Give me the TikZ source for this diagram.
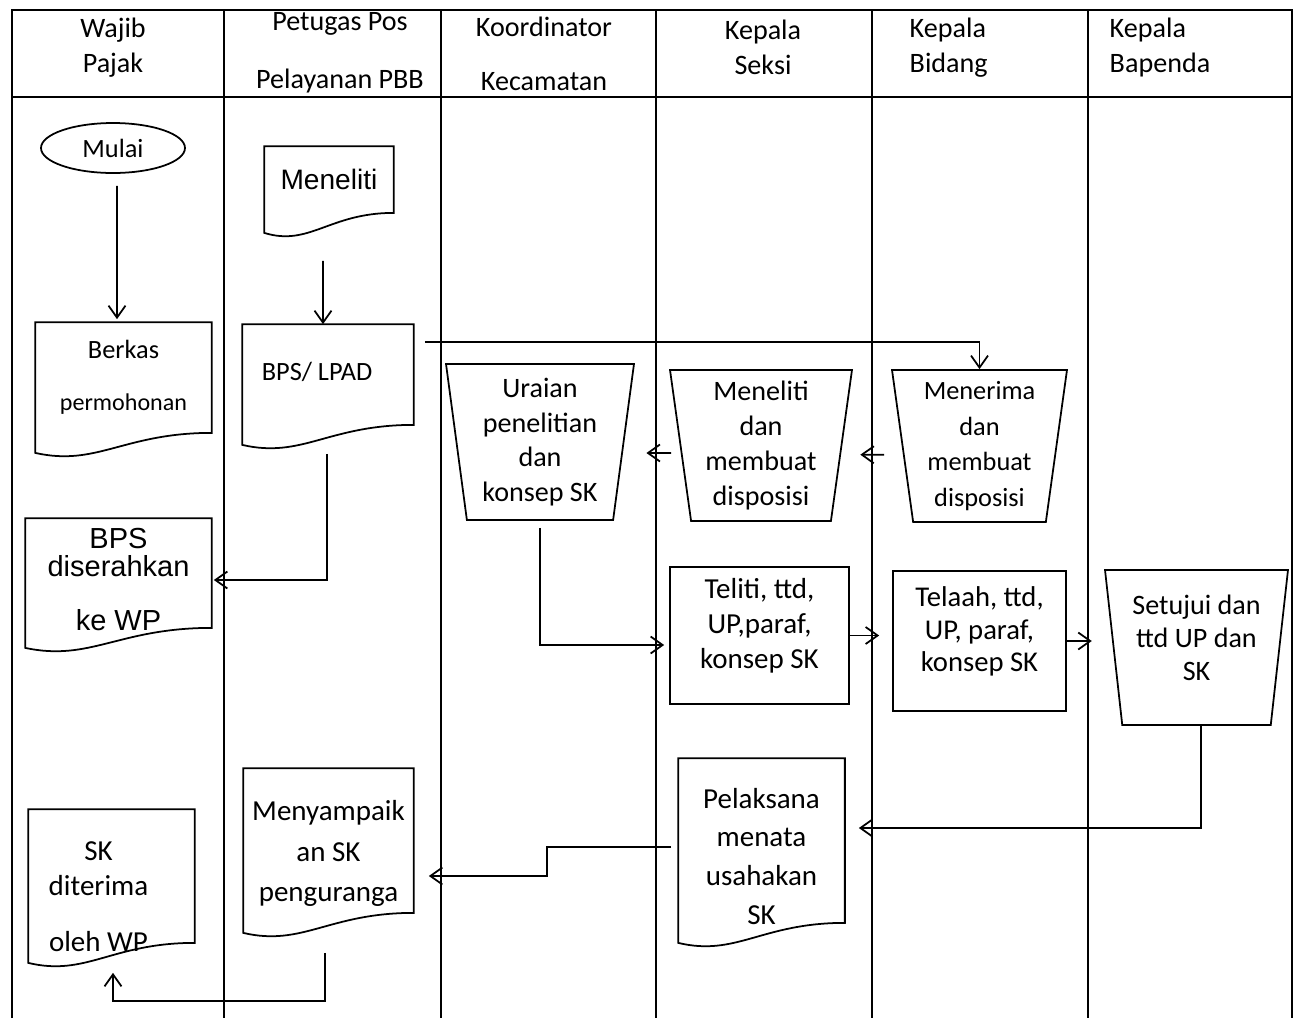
\documentclass[tikz,border=0pt]{standalone}
\usepackage{fontspec}
\setmainfont{Carlito}
\newfontfamily\arialfont{Liberation Sans}
\usetikzlibrary{shapes.geometric, arrows.meta, calc}

% outline of a document symbol round a (plain) node
\newcommand{\docframe}[1]{%
  \draw (#1.north west) -- (#1.north east) -- (#1.south east)
    .. controls ($(#1.south west)!0.5!(#1.south east)$)
    and ($(#1.south west)!0.35!(#1.south east)+(0pt,-0.68cm)$)
    .. ([yshift=-0.4cm]#1.south west) -- cycle;}

\begin{document}
\begin{tikzpicture}
[ x=0.02cm, y=-0.02cm, line width=1pt
, lane/.style={line width=0.9pt}
, lanehead/.style={align=center, font=\fontsize{16}{19.8}\selectfont}
, terminator/.style={ellipse, draw, minimum width=2.88cm, minimum height=1cm, font=\fontsize{15}{18}\selectfont}
, docbox/.style={rectangle, inner sep=1pt, align=center}
, process/.style={rectangle, draw, inner sep=1pt, align=center}
, manual/.style={trapezium, draw, shape border rotate=180, trapezium left angle=81, trapezium right angle=81, trapezium stretches body, inner sep=1pt, align=center}
, flow/.style={-{Straight Barb[length=2.4mm, width=3.4mm]}}
]
\useasboundingbox (0,0) rectangle (1295,1018);

% swimlanes
\draw[lane] (12,1018) -- (12,10) -- (1292,10) -- (1292,1018);
\draw[lane] (12,97) -- (1292,97);
\foreach \x in {224,441,656,872,1088}
  \draw[lane] (\x,10) -- (\x,1018);

% lane titles
\node (hwp) [lanehead] at (113,47.5) {Wajib\\Pajak};
\node (hpos) [lanehead, font=\fontsize{16}{33}\selectfont] at (340,53) {Petugas Pos\\Pelayanan PBB};
\node (hkoord) [lanehead, font=\fontsize{16}{31}\selectfont] at (544,54) {Koordinator\\Kecamatan};
\node (hkasi) [lanehead] at (763,47) {Kepala\\Seksi};
\node (hkabid) [lanehead, align=left, anchor=west] at (903,47.5) {Kepala\\Bidang};
\node (hkaban) [lanehead, align=left, anchor=west] at (1103,47.5) {Kepala\\Bapenda};

% Wajib Pajak
\node (mulai) [terminator] at (113,148) {Mulai};
\node (berkas) [docbox, minimum width=3.5cm, minimum height=2.18cm, font=\fontsize{15}{29.5}\selectfont]
  at (123.5,377.5) {Berkas\\{\fontsize{13.7}{16}\selectfont permohonan}};
\docframe{berkas}
\node (bpswp) [docbox, minimum width=3.7cm, minimum height=2.16cm,
  label={[docbox, font=\arialfont\fontsize{16.5}{16.4}\selectfont, yshift=-3.5pt]center:{BPS\\diserahkan\\[14pt]ke WP}}]
  at (118.5,573) {};
\docframe{bpswp}
\node (skwp) [docbox, minimum width=3.3cm, minimum height=2.64cm,
  label={[docbox, font=\fontsize{16.5}{20}\selectfont, shift={(-0.26cm,-0.42cm)}]center:{SK\\diterima\\[12pt]oleh WP}}]
  at (111.5,876) {};
\docframe{skwp}

% Petugas Pos Pelayanan PBB
\node (periksa) [docbox, minimum width=2.56cm, minimum height=1.3cm, font=\arialfont\fontsize{16}{19}\selectfont]
  at (329,179.5) {Meneliti};
\docframe{periksa}
\node (bps) [docbox, minimum width=3.4cm, minimum height=1.98cm,
  label={[docbox, font=\fontsize{15}{18}\selectfont, shift={(-0.22cm,0.06cm)}]center:BPS/ LPAD}]
  at (328,374.5) {};
\docframe{bps}
\node (sampaikan) [docbox, minimum width=3.38cm, minimum height=2.86cm,
  label={[docbox, font=\fontsize{16.5}{23}\selectfont, yshift=-7.4pt]center:{Menyampaik\\an SK\\penguranga}}]
  at (328.5,840.5) {};
\docframe{sampaikan}

% Koordinator, Kepala Seksi, Kepala Bidang, Kepala Bapenda
\node (uraian) [manual, minimum width=3.76cm, minimum height=3.12cm, font=\fontsize{16}{19.8}\selectfont]
  at (540,442) {Uraian\\penelitian\\dan\\konsep SK};
\node (dispokasi) [manual, minimum width=3.64cm, minimum height=3.02cm, font=\fontsize{16}{20}\selectfont]
  at (761,445.5) {Meneliti\\dan\\membuat\\disposisi};
\node (dispokabid) [manual, minimum width=3.5cm, minimum height=3.04cm, font=\fontsize{15}{20.4}\selectfont]
  at (979.5,446) {Menerima\\dan\\membuat\\disposisi};
\node (teliti) [process, minimum width=3.58cm, minimum height=2.74cm, text depth=13.5pt, font=\fontsize{16.5}{19.8}\selectfont]
  at (759.5,635.5) {Teliti, ttd,\\UP,paraf,\\konsep SK};
\node (telaah) [process, minimum width=3.46cm, minimum height=2.8cm, text depth=13.5pt, font=\fontsize{16.3}{18.4}\selectfont]
  at (979.5,641) {Telaah, ttd,\\UP, paraf,\\konsep SK};
\node (setujui) [manual, minimum width=3.66cm, minimum height=3.1cm, text depth=11.4pt, font=\fontsize{16}{18.7}\selectfont]
  at (1196.5,647.5) {Setujui dan\\ttd UP dan\\SK};
\node (pelaksana) [docbox, minimum width=3.3cm, minimum height=3.26cm,
  label={[docbox, font=\fontsize{16.5}{22}\selectfont, yshift=-9pt]center:{Pelaksana\\menata\\usahakan\\SK}}]
  at (761.5,840.5) {};
\docframe{pelaksana}

% connectors
\draw[flow] ([shift={(0.08cm,-0.24cm)}]mulai.south) -- ([shift={(-0.13cm,0.06cm)}]berkas.north);
\draw[flow] ([shift={(-0.12cm,-0.96cm)}]periksa.south) -- ([xshift=-0.1cm]bps.north);
\draw[flow] ([shift={(-0.02cm,-0.58cm)}]bps.south) |- ([shift={(0.04cm,-0.14cm)}]bpswp.east);
\draw[flow] ([shift={(0.22cm,-0.36cm)}]bps.north east) -| (dispokabid.90);
\draw[flow, shorten <=0.35cm, shorten >=0.36cm] ([yshift=-0.18cm]dispokabid.180) -- ([yshift=-0.18cm]dispokasi.0);
\draw[flow, shorten <=0.17cm, shorten >=0.44cm] ([yshift=-0.15cm]dispokasi.180) -- ([yshift=-0.22cm]uraian.0);
\draw[flow, shorten <=0.14cm, shorten >=0.1cm] (uraian.270) |- ([yshift=-0.19cm]teliti.west);
\draw[flow, shorten >=0.26cm] (teliti.east) -- (teliti.east -| telaah.west);
\draw[flow, shorten >=0.42cm] (telaah.east) -- (telaah.east -| setujui.180);
\draw[flow, shorten >=0.28cm] ([xshift=0.09cm]setujui.270) |- ([yshift=0.25cm]pelaksana.east);
\draw[flow] ([shift={(-0.14cm,-0.13cm)}]pelaksana.west) -- ++(-2.48cm,0) |- ([shift={(0.3cm,-0.71cm)}]sampaikan.east);
\draw[flow] ([shift={(-0.07cm,-0.8cm)}]sampaikan.south) -- ++(0,-0.96cm) -| ([shift={(0.03cm,-0.6cm)}]skwp.south);
\end{tikzpicture}
\end{document}
